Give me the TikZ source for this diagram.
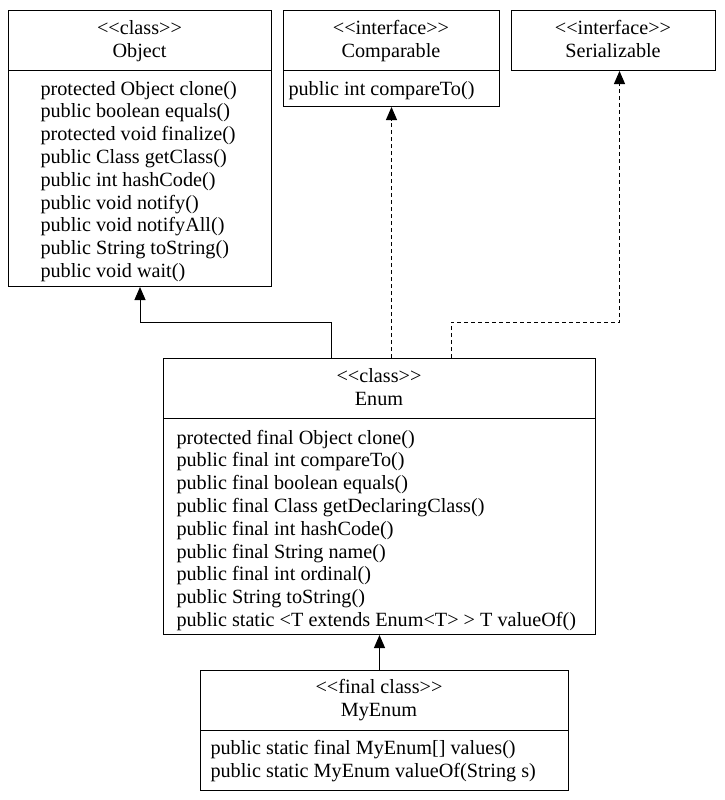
\documentclass[tikz,border=0pt]{standalone}
\usepackage{fontspec}
\setmainfont{Liberation Serif}
\usetikzlibrary{arrows.meta}

% stereotype guillemets written as two separate angle brackets
\newcommand\stereo[1]{<\kern0pt<#1>\kern0pt>}

\begin{document}
\begin{tikzpicture}[x=1pt,y=-1pt,line width=1pt,
  umlbox/.style={draw,rectangle,inner sep=0pt,anchor=north west},
  title/.style={anchor=base,inner sep=0pt,font=\fontsize{20.2}{23}\selectfont},
  member/.style={anchor=base west,inner sep=0pt,font=\fontsize{20.2}{23}\selectfont},
  inherit/.style={-{Triangle[width=11pt,length=13pt]}},
  realize/.style={-{Triangle[width=11pt,length=13pt]},dash pattern=on 4pt off 3pt}]
\useasboundingbox (0,0) rectangle (724,800);
\fill[white] (0,0) rectangle (724,800);

% ---- Object ----
\node[umlbox,minimum width=263pt,minimum height=276pt] (object) at (8,10) {};
\draw ([yshift=-60.7pt]object.north west) -- ([yshift=-60.7pt]object.north east);
\node[title] (object-st) at (139.5,35) {\stereo{class}};
\node[title] (object-nm) at (139.5,57.3) {Object};
\foreach \t [count=\i] in {
  {protected Object clone()},
  {public boolean equals()},
  {protected void finalize()},
  {public Class getClass()},
  {public int hashCode()},
  {public void notify()},
  {public void notifyAll()},
  {public String toString()},
  {public void wait()}}
  \node[member] (object-m\i) at (40,95+22.8*\i-22.8) {\t};

% ---- Comparable ----
\node[umlbox,minimum width=216pt,minimum height=96pt] (comparable) at (283,10) {};
\draw ([yshift=-60.7pt]comparable.north west) -- ([yshift=-60.7pt]comparable.north east);
\node[title] (comparable-st) at (391,35) {\stereo{interface}};
\node[title] (comparable-nm) at (391,57.3) {Comparable};
\node[member] (comparable-m1) at (288,95) {public int compareTo()};

% ---- Serializable ----
\node[umlbox,minimum width=204pt,minimum height=60pt] (serial) at (511,10) {};
\node[title] (serial-st) at (613,35) {\stereo{interface}};
\node[title] (serial-nm) at (613,57.3) {Serializable};

% ---- Enum ----
\node[umlbox,minimum width=432pt,minimum height=276pt] (enum) at (163,358) {};
\draw ([yshift=-60.3pt]enum.north west) -- ([yshift=-60.3pt]enum.north east);
\node[title] (enum-st) at (379,382) {\stereo{class}};
\node[title] (enum-nm) at (379,405) {Enum};
\foreach \t [count=\i] in {
  {protected final Object clone()},
  {public final int compareTo()},
  {public final boolean equals()},
  {public final Class getDeclaringClass()},
  {public final int hashCode()},
  {public final String name()},
  {public final int ordinal()},
  {public String toString()},
  {public static <T extends Enum<T> > T valueOf()}}
  \node[member] (enum-m\i) at (176,444+22.8*\i-22.8) {\t};

% ---- MyEnum ----
\node[umlbox,minimum width=368pt,minimum height=120pt] (myenum) at (200,670) {};
\draw ([yshift=-60pt]myenum.north west) -- ([yshift=-60pt]myenum.north east);
\node[title] (myenum-st) at (379,693.3) {\stereo{final class}};
\node[title] (myenum-nm) at (379,716.7) {MyEnum};
\node[member] (myenum-m1) at (210,754) {public static final MyEnum[] values()};
\node[member] (myenum-m2) at (210,777) {public static MyEnum valueOf(String s)};

% ---- relations ----
\coordinate (bendObj) at (331,322);
\coordinate (bendSer) at (451,322);
\draw[inherit] (bendObj |- enum.north) -- (bendObj) -| (object.south);
\draw[realize] (comparable.south |- enum.north) -- (comparable.south);
\draw[realize] (bendSer |- enum.north) -- (bendSer) -| ([xshift=6pt]serial.south);
\draw[inherit] (enum.south |- myenum.north) -- (enum.south);
\end{tikzpicture}
\end{document}
